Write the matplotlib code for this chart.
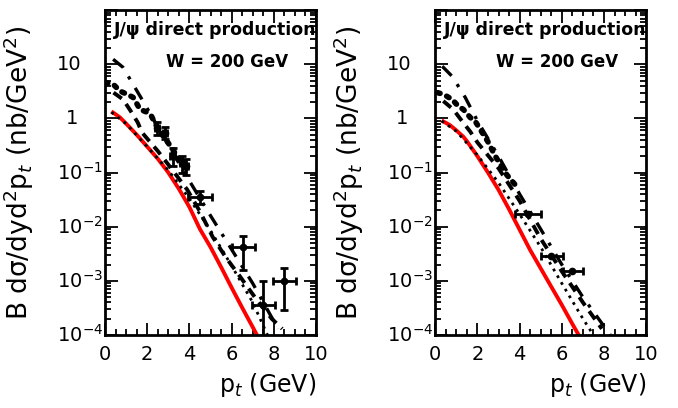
import matplotlib
matplotlib.use("Agg")
from matplotlib import pyplot as plt
from matplotlib.ticker import MultipleLocator, LogLocator, NullFormatter, FixedLocator
from matplotlib.transforms import blended_transform_factory

# ---- left panel ----
pt_red_l = [0.3, 0.7, 1.0, 1.5, 2.0, 2.5, 3.0, 3.5, 4.0, 4.5, 5.0, 5.5, 6.0, 6.5, 7.0, 7.2]
red_l = [1.35, 1.05, 0.8, 0.5, 0.3, 0.18, 0.1, 0.05, 0.023, 0.009, 0.0042, 0.0018,
         0.00075, 0.00032, 0.00014, 0.0001]

pt_dot_l = [0.3, 1.0, 2.0, 3.0, 4.0, 5.0, 6.0, 7.0, 7.7]
dot_l = [1.3, 0.8, 0.3, 0.11, 0.033, 0.0085, 0.0019, 0.0004, 0.0001]

pt_dash_l = [0.4, 0.85, 1.2, 1.55, 1.75, 2.5, 3.0, 3.9, 4.5, 5.1, 5.7, 6.4, 7.1, 7.9, 8.4]
dash_l = [3.0, 2.25, 1.4, 0.84, 0.55, 0.25, 0.14, 0.048, 0.019, 0.0065, 0.0028, 0.0012,
          0.0005, 0.0002, 0.00013]

pt_dd_l = [0.38, 0.85, 1.42, 1.75, 2.5, 3.0, 4.0, 5.0, 6.0, 7.0, 8.0, 8.2]
dd_l = [12.4, 8.8, 3.7, 2.25, 0.7, 0.32, 0.07, 0.016, 0.0038, 0.0009, 0.00018, 0.00013]

pt_big_l = [0.0, 0.38, 0.71, 1.04, 1.33, 1.66, 2.0, 2.2, 2.5, 3.0, 3.5, 4.0]
big_l = [4.6, 4.3, 3.2, 2.8, 2.45, 1.47, 1.3, 1.1, 0.65, 0.35, 0.18, 0.1]

data_pt_l = [2.46, 2.84, 3.2, 3.65, 3.85, 4.5, 6.55, 7.5, 8.5]
data_y_l = [0.68, 0.55, 0.2, 0.15, 0.13, 0.035, 0.0043, 0.00036, 0.001]
data_xerr_l = [0.1, 0.1, 0.1, 0.1, 0.1, 0.55, 0.55, 0.55, 0.55]
data_ylo_l = [0.5, 0.42, 0.13, 0.1, 0.09, 0.026, 0.0016, 0.00009, 0.00029]
data_yhi_l = [0.85, 0.7, 0.29, 0.2, 0.18, 0.046, 0.0068, 0.001, 0.0017]

# ---- right panel ----
pt_red_r = [0.3, 0.7, 1.0, 1.33, 1.5, 2.0, 2.5, 3.0, 3.5, 4.0, 4.5, 5.0, 5.5, 6.0, 6.5, 6.8]
red_r = [0.92, 0.75, 0.6, 0.46, 0.38, 0.2, 0.1, 0.048, 0.021, 0.0088, 0.0037, 0.0017,
         0.00078, 0.00036, 0.00016, 0.0001]

pt_dot_r = [0.3, 1.0, 2.0, 3.0, 4.0, 5.0, 6.0, 7.0, 7.5]
dot_r = [0.9, 0.58, 0.21, 0.065, 0.017, 0.0042, 0.0009, 0.0002, 0.0001]

pt_dash_r = [0.38, 0.85, 1.28, 1.66, 2.0, 3.0, 4.0, 5.0, 6.0, 7.0, 7.9]
dash_r = [2.1, 1.47, 0.88, 0.57, 0.36, 0.12, 0.03, 0.006, 0.0015, 0.0004, 0.00013]

pt_dd_r = [0.33, 0.8, 1.42, 2.0, 3.0, 4.0, 5.0, 6.0, 7.0, 8.3]
dd_r = [9.2, 6.0, 2.45, 0.9, 0.2, 0.04, 0.009, 0.002, 0.0005, 0.0001]

pt_big_r = [0.1, 0.38, 0.8, 1.1, 1.33, 1.66, 1.9, 2.2, 2.5, 2.85, 3.4, 3.9]
big_r = [3.0, 2.8, 2.25, 1.67, 1.47, 1.04, 0.88, 0.57, 0.37, 0.2, 0.09, 0.053]

data_pt_r = [4.4, 5.5, 6.5]
data_y_r = [0.0174, 0.0029, 0.0015]
data_xlo_r = [3.8, 5.0, 6.07]
data_xhi_r = [5.0, 6.07, 7.0]

ytick_vals = [1e-4, 1e-3, 1e-2, 1e-1, 1, 10]
ytick_labels = ["10$^{-4}$", "10$^{-3}$", "10$^{-2}$", "10$^{-1}$", "1", "10"]

plt.rcParams['font.family'] = ['DejaVu Sans']
plt.rcParams['mathtext.fontset'] = 'dejavusans'

fig = plt.figure(figsize=(6.78, 4.08), dpi=100)
ax1 = fig.add_axes([0.155, 0.179, 0.311, 0.796])
ax2 = fig.add_axes([0.642, 0.179, 0.311, 0.796])


def draw(ax, red, dot, dash, dd, big):
    ax.plot(red[0], red[1], color='red', lw=2.8, solid_capstyle='butt')
    ax.plot(dot[0], dot[1], color='black', lw=2.0, ls=(0, (1, 1.8)))
    ax.plot(dash[0], dash[1], color='black', lw=2.8, ls=(0, (2.6, 1.8)))
    ax.plot(dd[0], dd[1], color='black', lw=2.4, ls=(0, (4, 3, 1, 3)))
    ax.plot(big[0], big[1], color='black', lw=4.0, ls=(0, (0.5, 1.3)), dash_capstyle='round')


def style(ax):
    ax.set_yscale('log')
    ax.set_xlim(0, 10)
    ax.set_ylim(1e-4, 1e2)
    ax.xaxis.set_major_locator(MultipleLocator(2))
    ax.xaxis.set_minor_locator(MultipleLocator(0.5))
    ax.yaxis.set_major_locator(FixedLocator(ytick_vals + [100]))
    ax.yaxis.set_major_formatter(NullFormatter())
    ax.yaxis.set_minor_locator(LogLocator(base=10, subs=range(2, 10)))
    ax.yaxis.set_minor_formatter(NullFormatter())
    ax.tick_params(which='both', direction='in', top=True, right=True, width=1.3)
    ax.tick_params(which='major', length=9, labelsize=14, pad=7)
    ax.tick_params(which='minor', length=4.5)
    for s in ax.spines.values():
        s.set_linewidth(2)
    # y tick labels: the "10" base lined up, exponent sticking out
    tr = blended_transform_factory(ax.transAxes, ax.transData)
    for v, lab in zip(ytick_vals, ytick_labels):
        if lab == "1":
            ax.text(-0.127, v, lab, transform=tr, ha='right', va='center', fontsize=14)
        else:
            ax.text(-0.228, v, lab, transform=tr, ha='left', va='center', fontsize=14)
    ax.set_xlabel("p$_{t}$ (GeV)", fontsize=17, loc='right', labelpad=5)
    ax.set_ylabel("B d\u03c3/dyd$^{2}$p$_{t}$ (nb/GeV$^{2}$)", fontsize=19)
    ax.yaxis.set_label_coords(-0.33, 0.5)
    ax.text(0.04, 0.94, "J/\u03c8 direct production", transform=ax.transAxes,
            fontsize=12.5, fontweight='bold', va='center', ha='left')
    ax.text(0.578, 0.84, "W = 200 GeV", transform=ax.transAxes,
            fontsize=12, fontweight='bold', va='center', ha='center')


draw(ax1, (pt_red_l, red_l), (pt_dot_l, dot_l), (pt_dash_l, dash_l),
     (pt_dd_l, dd_l), (pt_big_l, big_l))
yerr_l = [[y - lo for y, lo in zip(data_y_l, data_ylo_l)],
          [hi - y for y, hi in zip(data_y_l, data_yhi_l)]]
ax1.errorbar(data_pt_l, data_y_l, xerr=data_xerr_l, yerr=yerr_l, fmt='o', color='black',
             ms=4.5, lw=2, capsize=3, capthick=2)
style(ax1)

draw(ax2, (pt_red_r, red_r), (pt_dot_r, dot_r), (pt_dash_r, dash_r),
     (pt_dd_r, dd_r), (pt_big_r, big_r))
xerr_r = [[p - lo for p, lo in zip(data_pt_r, data_xlo_r)],
          [hi - p for p, hi in zip(data_pt_r, data_xhi_r)]]
ax2.errorbar(data_pt_r, data_y_r, xerr=xerr_r, fmt='o', color='black',
             ms=4.5, lw=2, capsize=3, capthick=2)
style(ax2)

fig.savefig("out.png", dpi=100)
